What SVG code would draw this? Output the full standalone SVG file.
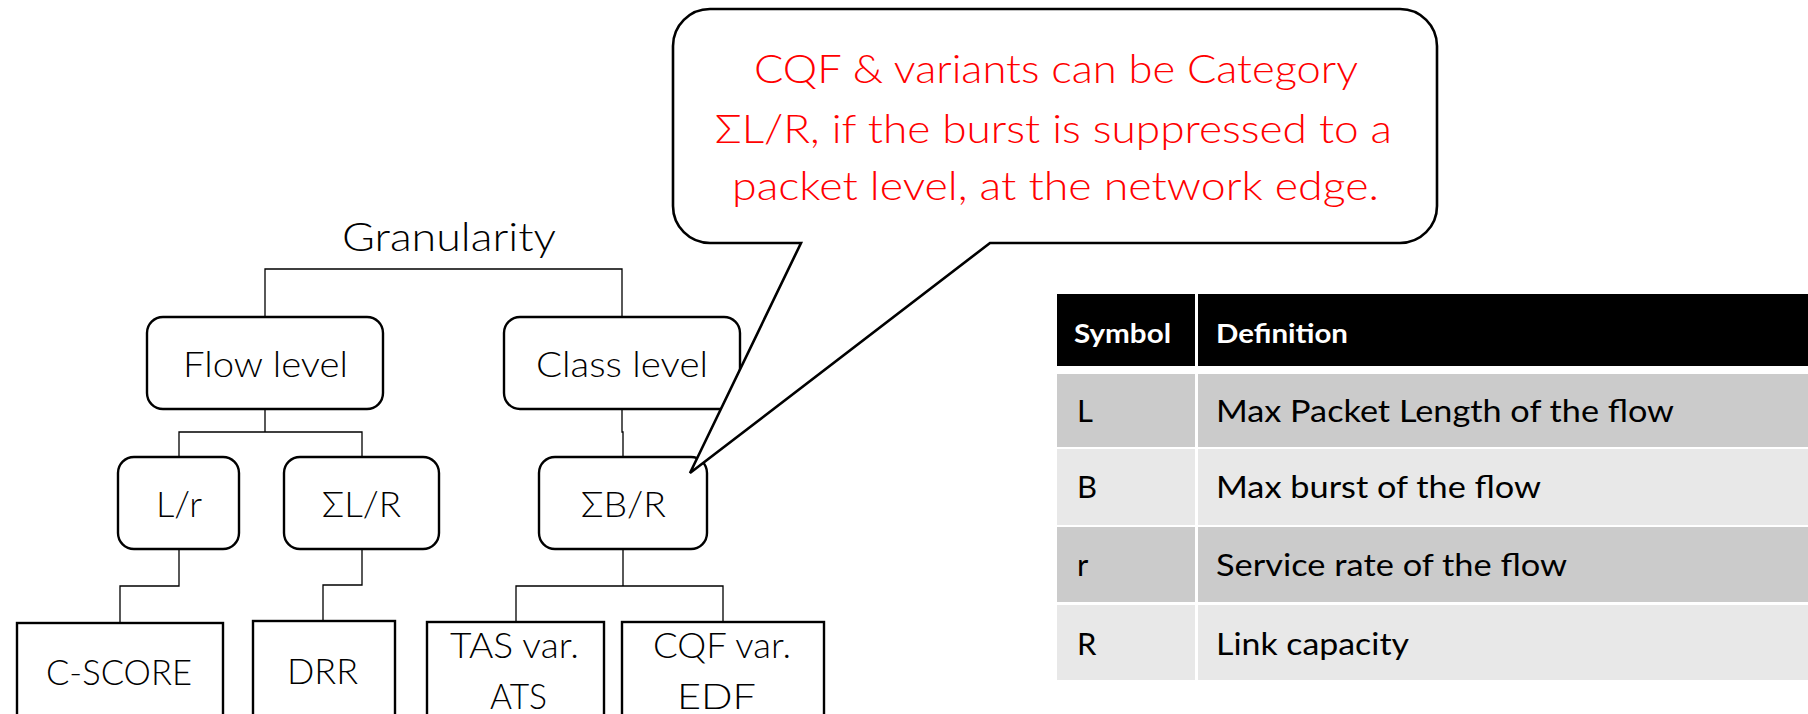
<svg xmlns="http://www.w3.org/2000/svg" width="1808" height="714" viewBox="0 0 1808 714">
  <style>
    .node { fill: #fff; stroke: #000; stroke-width: 2.4; }
    .wire { fill: none; stroke: #000; stroke-width: 1.3; }
    .lbl { font-family: Lato, "Liberation Sans", sans-serif; font-weight: 300; font-size: 36px; fill: #000; text-anchor: middle; }
    .big { font-size: 40px; }
    .note { font-family: Lato, "Liberation Sans", sans-serif; font-weight: 300; font-size: 39px; fill: #ff0000; text-anchor: middle; }
    .th { font-family: Lato, "Liberation Sans", sans-serif; font-weight: 700; font-size: 27px; fill: #fff; }
    .td { font-family: Lato, "Liberation Sans", sans-serif; font-weight: 400; font-size: 31px; fill: #000; }
  </style>
  <rect width="1808" height="714" fill="#fff"/>

  <!-- tree connectors -->
  <g id="connectors">
    <path class="wire" d="M265,317 V269 H622 V317"/>
    <path class="wire" d="M265,409 V432 M179,457 V432 H362 V457"/>
    <path class="wire" d="M622,409 V432 H623 V457"/>
    <path class="wire" d="M179,549 V586 H120 V623"/>
    <path class="wire" d="M362,549 V585 H323 V621"/>
    <path class="wire" d="M623,549 V586 M516,622 V586 H723 V622"/>
  </g>

  <g id="granularity">
    <text class="lbl big" x="449" y="251" textLength="214" lengthAdjust="spacingAndGlyphs">Granularity</text>
  </g>

  <g id="flow-level">
    <rect class="node" x="147" y="317" width="236" height="92" rx="16"/>
    <text class="lbl" x="265.5" y="377" textLength="165" lengthAdjust="spacingAndGlyphs">Flow level</text>
  </g>
  <g id="class-level">
    <rect class="node" x="504" y="317" width="236" height="92" rx="16"/>
    <text class="lbl" x="622" y="377" textLength="172" lengthAdjust="spacingAndGlyphs">Class level</text>
  </g>

  <g id="l-over-r">
    <rect class="node" x="118" y="457" width="121" height="92" rx="16"/>
    <text class="lbl" x="179" y="517" textLength="46" lengthAdjust="spacingAndGlyphs">L/r</text>
  </g>
  <g id="sum-l-over-R">
    <rect class="node" x="284" y="457" width="155" height="92" rx="16"/>
    <text class="lbl" x="361.5" y="517" textLength="79" lengthAdjust="spacingAndGlyphs">ΣL/R</text>
  </g>
  <g id="sum-b-over-R">
    <rect class="node" x="539" y="457" width="168" height="92" rx="16"/>
    <text class="lbl" x="623.5" y="517" textLength="85" lengthAdjust="spacingAndGlyphs">ΣB/R</text>
  </g>

  <g id="c-score">
    <rect class="node" x="17" y="623" width="206" height="110"/>
    <text class="lbl" x="119" y="685" textLength="146" lengthAdjust="spacingAndGlyphs">C-SCORE</text>
  </g>
  <g id="drr">
    <rect class="node" x="253" y="621" width="142" height="110"/>
    <text class="lbl" x="322.5" y="684" textLength="71" lengthAdjust="spacingAndGlyphs">DRR</text>
  </g>
  <g id="tas-ats">
    <rect class="node" x="427" y="622" width="177" height="110"/>
    <text class="lbl" x="514.5" y="658" textLength="129" lengthAdjust="spacingAndGlyphs">TAS var.</text>
    <text class="lbl" x="518.5" y="709" textLength="57" lengthAdjust="spacingAndGlyphs">ATS</text>
  </g>
  <g id="cqf-edf">
    <rect class="node" x="622" y="622" width="202" height="110"/>
    <text class="lbl" x="722" y="658" textLength="138" lengthAdjust="spacingAndGlyphs">CQF var.</text>
    <text class="lbl" x="716.5" y="709" textLength="79" lengthAdjust="spacingAndGlyphs">EDF</text>
  </g>

  <!-- speech bubble pointing at the ΣB/R node -->
  <g id="callout">
    <path d="M710,9 H1400 A37,37 0 0 1 1437,46 V206 A37,37 0 0 1 1400,243 H990 L690,473 L801,243 H710 A37,37 0 0 1 673,206 V46 A37,37 0 0 1 710,9 Z" fill="#fff" stroke="#000" stroke-width="2.6" stroke-linejoin="miter"/>
    <text class="note" x="1056" y="83" textLength="604" lengthAdjust="spacingAndGlyphs">CQF &amp; variants can be Category</text>
    <text class="note" x="1053.5" y="143" textLength="677" lengthAdjust="spacingAndGlyphs">ΣL/R, if the burst is suppressed to a</text>
    <text class="note" x="1055.5" y="200" textLength="647" lengthAdjust="spacingAndGlyphs">packet level, at the network edge.</text>
  </g>

  <!-- symbol legend table -->
  <g id="legend">
    <rect x="1057" y="294" width="751" height="72" fill="#000"/>
    <rect x="1057" y="374" width="751" height="73" fill="#cbcbcb"/>
    <rect x="1057" y="449" width="751" height="76" fill="#e8e8e8"/>
    <rect x="1057" y="527" width="751" height="75" fill="#cbcbcb"/>
    <rect x="1057" y="605" width="751" height="75" fill="#e8e8e8"/>
    <rect x="1195" y="292" width="3" height="390" fill="#fff"/>
    <text class="th" x="1074" y="343" textLength="97" lengthAdjust="spacingAndGlyphs">Symbol</text>
    <text class="th" x="1216" y="343" textLength="132" lengthAdjust="spacingAndGlyphs">Definition</text>
    <text class="td" x="1077" y="422">L</text>
    <text class="td" x="1216" y="422" textLength="458" lengthAdjust="spacingAndGlyphs">Max Packet Length of the flow</text>
    <text class="td" x="1077" y="498">B</text>
    <text class="td" x="1216" y="498" textLength="325" lengthAdjust="spacingAndGlyphs">Max burst of the flow</text>
    <text class="td" x="1077" y="576">r</text>
    <text class="td" x="1216" y="576" textLength="351" lengthAdjust="spacingAndGlyphs">Service rate of the flow</text>
    <text class="td" x="1077" y="655">R</text>
    <text class="td" x="1216" y="655" textLength="193" lengthAdjust="spacingAndGlyphs">Link capacity</text>
  </g>
</svg>
